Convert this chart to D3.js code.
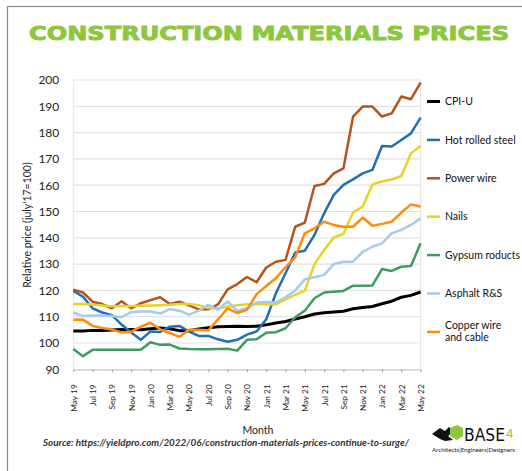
<!DOCTYPE html>
<html>
<head>
<meta charset="utf-8">
<script src="https://cdn.jsdelivr.net/npm/d3@7"></script>
<style>
  body { margin: 0; background: #fff; }
  svg { display: block; font-family: Lato, "Open Sans", sans-serif; }
</style>
</head>
<body>
<div id="chart"></div>
<script>
// months on the category axis
var months = ["May 19","Jun 19","Jul 19","Aug 19","Sep 19","Oct 19","Nov 19","Dec 19",
  "Jan 20","Feb 20","Mar 20","Apr 20","May 20","Jun 20","Jul 20","Aug 20","Sep 20","Oct 20","Nov 20","Dec 20",
  "Jan 21","Feb 21","Mar 21","Apr 21","May 21","Jun 21","Jul 21","Aug 21","Sep 21","Oct 21","Nov 21","Dec 21",
  "Jan 22","Feb 22","Mar 22","Apr 22","May 22"];

var yTicks = [90, 100, 110, 120, 130, 140, 150, 160, 170, 180, 190, 200];

var cpiU = [104.6,104.6,104.8,104.8,104.9,105.1,105.1,105.0,105.4,105.7,105.4,104.7,104.7,105.3,105.8,106.2,106.3,
  106.4,106.3,106.4,106.9,107.6,108.2,109.1,110.0,111.0,111.5,111.8,112.1,113.0,113.5,113.9,114.9,115.9,117.4,118.1,119.4];
var hotRolledSteel = [119.8,117.6,113.2,111.6,110.6,107.0,104.0,101.2,104.4,104.2,106.2,106.5,104.3,102.7,102.7,101.4,100.5,
  101.2,103.2,104.4,109.0,118.9,126.5,134.4,135.1,141.1,149.3,156.3,160.1,162.2,164.5,165.8,174.9,174.7,177.2,179.7,185.7];
var powerWire = [120.3,119.2,115.7,114.8,113.2,115.9,113.2,115.1,116.3,117.4,114.8,115.7,114.3,112.8,112.8,114.7,120.4,
  122.4,125.1,123.1,128.7,130.9,131.6,144.2,145.8,159.7,160.5,164.5,166.4,186.1,189.9,189.9,186.1,187.3,193.7,192.7,199.0];
var nails = [114.8,114.8,114.6,114.3,114.0,114.0,114.1,114.2,114.3,114.4,114.5,114.8,114.8,114.4,113.3,113.2,113.8,
  114.4,114.7,114.7,114.7,114.7,116.6,118.3,119.9,130.0,135.4,140.1,141.5,149.6,151.9,160.3,161.4,162.2,163.5,172.1,174.9];
var gypsum = [97.7,95.0,97.4,97.4,97.4,97.4,97.4,97.4,100.3,99.3,99.4,97.9,97.7,97.6,97.6,97.7,97.8,
  97.1,101.2,101.4,103.9,104.1,105.6,109.8,112.3,117.0,119.2,119.5,119.8,121.8,121.8,121.9,128.1,127.4,129.0,129.3,137.9];
var asphalt = [111.5,110.3,110.5,110.5,110.3,109.8,111.7,112.0,112.0,111.2,112.9,112.3,110.8,112.3,114.5,112.6,115.8,
  112.2,113.2,115.4,115.6,115.4,117.4,119.9,124.2,125.0,125.9,130.0,130.9,130.9,134.7,136.6,137.9,141.7,143.0,144.9,147.4];
var copperWire = [108.8,108.9,106.5,105.7,105.1,104.0,104.3,106.2,107.7,105.2,103.8,102.3,105.0,105.0,104.8,109.0,113.2,
  111.4,112.6,118.6,121.7,124.6,128.8,132.6,141.7,143.6,146.1,144.9,144.2,144.2,147.7,144.6,145.3,146.1,149.6,152.7,151.9];

var seriesNames = ["CPI-U", "Hot rolled steel", "Power wire", "Nails", "Gypsum roducts", "Asphalt R&S", "Copper wire and cable"];
var seriesValues = [cpiU, hotRolledSteel, powerWire, nails, gypsum, asphalt, copperWire];
var seriesColors = ["#000000", "#1f6fba", "#b5531c", "#e5d422", "#3e9b62", "#a6c9ec", "#ff8c0a"];

var W = 522, H = 471;
var plotLeft = 73.3, plotRight = 420.6, plotTop = 80, plotBottom = 369.3;

var svg = d3.select("#chart").append("svg")
  .attr("width", W)
  .attr("height", H);

// frame
svg.append("rect")
  .attr("x", 7.5).attr("y", 6.5)
  .attr("width", 560).attr("height", 500)
  .attr("fill", "none")
  .attr("stroke", "#8a8a8a")
  .attr("stroke-width", 1.2);

// title
svg.append("text")
  .attr("x", 269).attr("y", 39.5)
  .attr("text-anchor", "middle")
  .attr("textLength", 480)
  .attr("lengthAdjust", "spacingAndGlyphs")
  .style("font-family", "'DejaVu Sans', sans-serif")
  .style("font-weight", "bold")
  .style("font-size", "20px")
  .attr("fill", "#8dc63f")
  .attr("stroke", "#8dc63f")
  .attr("stroke-width", 0.9)
  .text("CONSTRUCTION MATERIALS PRICES");

var x = d3.scalePoint().domain(months).range([plotLeft, plotRight]);
var y = d3.scaleLinear().domain([90, 200]).range([plotBottom, plotTop]);

// gridlines
svg.append("g").selectAll("line")
  .data(yTicks.slice(1))
  .enter().append("line")
  .attr("x1", plotLeft).attr("x2", plotRight)
  .attr("y1", function(d){ return y(d); })
  .attr("y2", function(d){ return y(d); })
  .attr("stroke", "#e2e2e2")
  .attr("stroke-width", 1.2);

// plot area side borders
svg.append("line").attr("x1", plotLeft).attr("x2", plotLeft).attr("y1", plotTop).attr("y2", plotBottom)
  .attr("stroke", "#e4e4e4").attr("stroke-width", 1);
svg.append("line").attr("x1", plotRight).attr("x2", plotRight).attr("y1", plotTop).attr("y2", plotBottom)
  .attr("stroke", "#e4e4e4").attr("stroke-width", 1);

// y axis
var yAxis = svg.append("g")
  .attr("transform", "translate(" + plotLeft + ",0)")
  .call(d3.axisLeft(y).tickValues(yTicks).tickSize(0).tickPadding(14));
yAxis.select(".domain").remove();
yAxis.selectAll("text")
  .style("font-family", "Lato, sans-serif")
  .style("font-size", "12px")
  .attr("fill", "#222");

// x axis
var xAxis = svg.append("g")
  .attr("transform", "translate(0," + plotBottom + ")")
  .call(d3.axisBottom(x).tickValues(months.filter(function(d, i){ return i % 2 === 0; })).tickSize(3).tickSizeOuter(0));
xAxis.select(".domain").attr("stroke", "#c8c8c8").attr("stroke-width", 1.2);
xAxis.selectAll(".tick line").attr("stroke", "#a0a0a0");
xAxis.selectAll("text")
  .attr("transform", "rotate(-90)")
  .attr("text-anchor", "end")
  .attr("x", -15)
  .attr("y", 0)
  .attr("dy", "0.35em")
  .style("font-family", "Lato, sans-serif")
  .style("font-size", "8.3px")
  .attr("fill", "#222");

// axis titles
svg.append("text")
  .attr("transform", "translate(31,225) rotate(-90)")
  .attr("text-anchor", "middle")
  .style("font-size", "10.5px")
  .attr("fill", "#222")
  .text("Relative price (july'17=100)");

svg.append("text")
  .attr("x", 258).attr("y", 434)
  .attr("text-anchor", "middle")
  .style("font-size", "10.5px")
  .attr("fill", "#222")
  .text("Month");

// lines
var line = d3.line()
  .x(function(d, i){ return x(months[i]); })
  .y(function(d){ return y(d); });

svg.append("g").selectAll("path")
  .data(seriesValues)
  .enter().append("path")
  .attr("d", function(d){ return line(d); })
  .attr("fill", "none")
  .attr("stroke", function(d, i){ return seriesColors[i]; })
  .attr("stroke-width", function(d, i){ return i === 0 ? 3 : 2.5; })
  .attr("stroke-linejoin", "round");

// legend
var legend = svg.append("g").selectAll("g")
  .data(seriesNames)
  .enter().append("g")
  .attr("transform", function(d, i){ return "translate(427," + (101.5 + i * 38.4) + ")"; });

legend.append("line")
  .attr("x1", 0).attr("x2", 13)
  .attr("stroke", function(d, i){ return seriesColors[i]; })
  .attr("stroke-width", function(d, i){ return i === 0 ? 3 : 2.5; });

legend.append("text")
  .attr("x", 18)
  .style("font-size", "10.5px")
  .attr("fill", "#111")
  .each(function(d){
    var t = d3.select(this);
    var parts = d === "Copper wire and cable" ? ["Copper wire", "and cable"] : [d];
    parts.forEach(function(p, k){
      t.append("tspan")
        .attr("x", 18)
        .attr("dy", parts.length > 1 ? (k === 0 ? "-0.25em" : "1.1em") : "0.35em")
        .text(p);
    });
  });

// source
svg.append("text")
  .attr("x", 43).attr("y", 445.5)
  .attr("textLength", 366)
  .attr("lengthAdjust", "spacingAndGlyphs")
  .style("font-size", "9px")
  .style("font-style", "italic")
  .style("font-weight", "bold")
  .attr("fill", "#333")
  .text("Source: https://yieldpro.com/2022/06/construction-materials-prices-continue-to-surge/");

// logo
var logo = svg.append("g").attr("transform", "translate(432,427)");
logo.append("path")
  .attr("d", "M0,7 L8,1 L13,4 L17,0 L22,4 L16,9 L21,13 L13,14 L8,12 Z")
  .attr("fill", "#111");
logo.append("path")
  .attr("d", "M18,1 L25,-2 L31,1 L31,9 L25,13 L18,9 Z")
  .attr("fill", "#8dc63f");
logo.append("text")
  .attr("x", 32).attr("y", 14)
  .attr("textLength", 41)
  .attr("lengthAdjust", "spacingAndGlyphs")
  .style("font-family", "'Liberation Sans Narrow', 'DejaVu Sans Condensed', sans-serif")
  .style("font-size", "18px")
  .attr("fill", "#111")
  .text("BASE");
logo.append("text")
  .attr("x", 74).attr("y", 11)
  .style("font-family", "'Liberation Sans Narrow', sans-serif")
  .style("font-size", "13px")
  .attr("fill", "#8dc63f")
  .text("4");
logo.append("text")
  .attr("x", 0).attr("y", 25)
  .attr("textLength", 83)
  .attr("lengthAdjust", "spacingAndGlyphs")
  .style("font-size", "6px")
  .attr("fill", "#222")
  .text("Architects|Engineers|Designers");
</script>
</body>
</html>
